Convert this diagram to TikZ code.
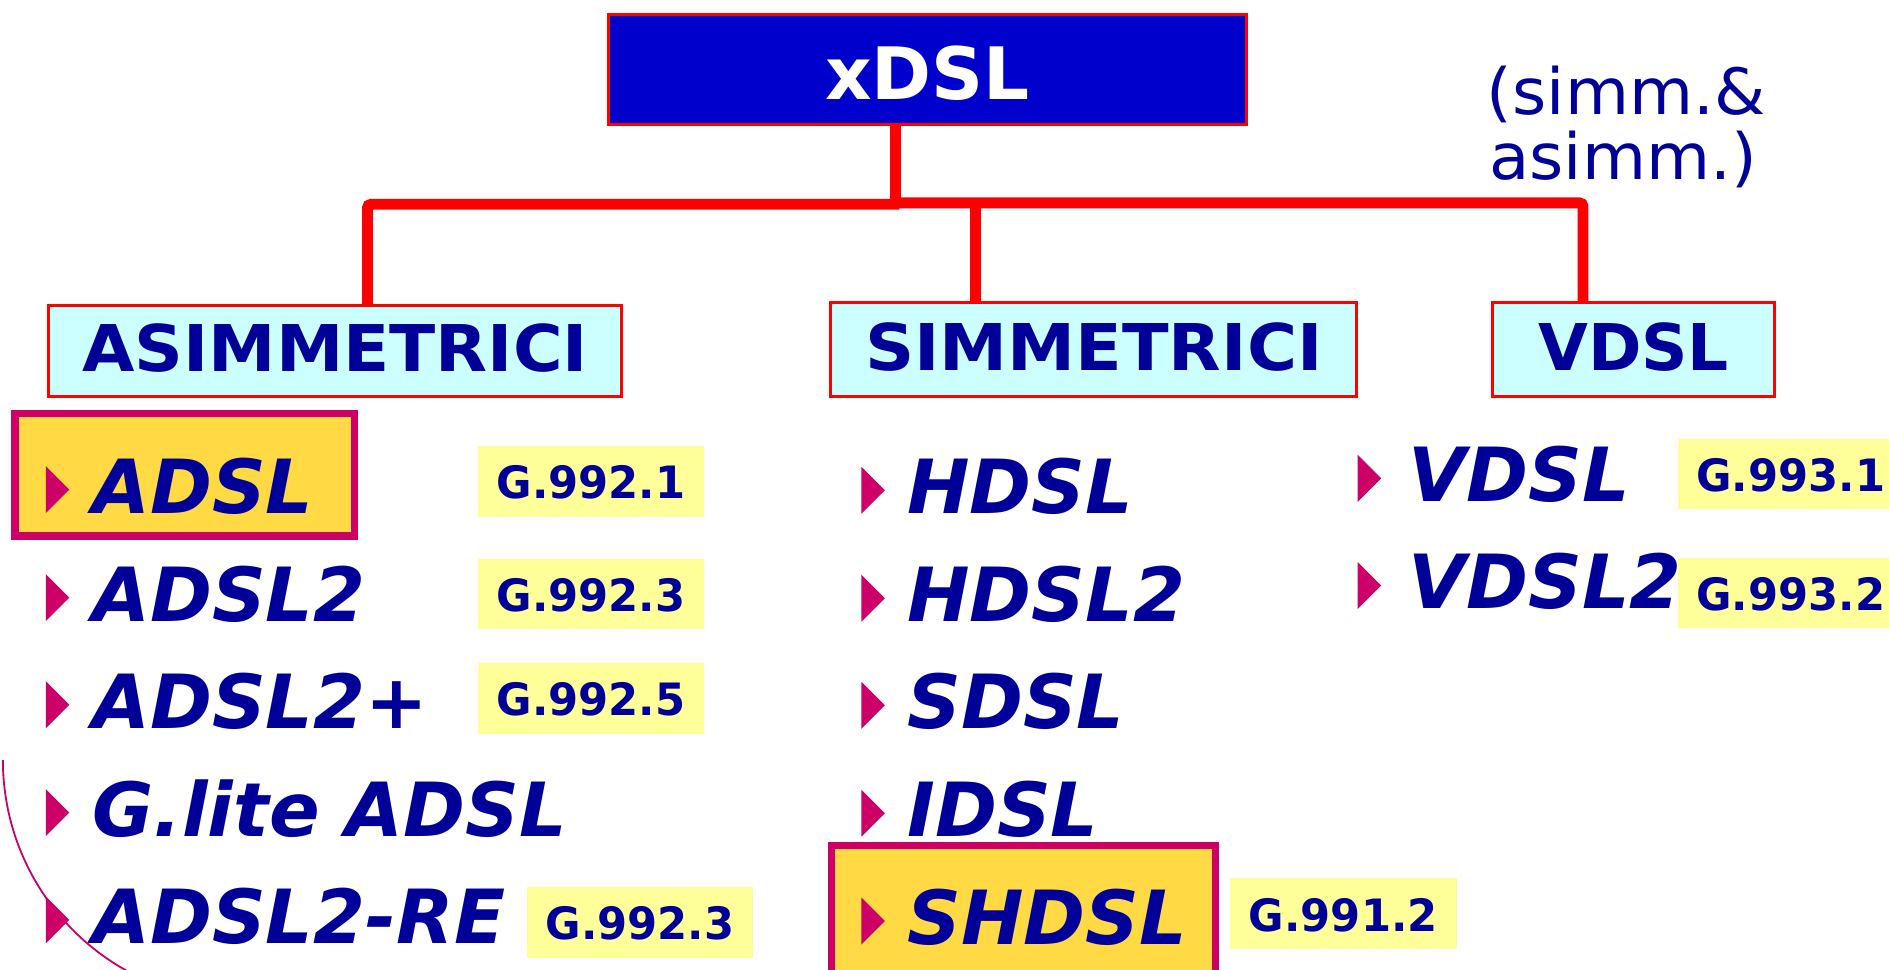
\documentclass[tikz,border=0pt]{standalone}
\usepackage{fontspec}
\usepackage{graphicx}
\setmainfont{DejaVu Sans}
\newfontfamily\labfont{DejaVu Sans}[FakeStretch=0.97]
\definecolor{navy}{HTML}{000099}
\definecolor{boxblue}{HTML}{0000CC}
\definecolor{hdrfill}{HTML}{CCFFFF}
\definecolor{labfill}{HTML}{FFFF99}
\definecolor{gold}{HTML}{FFDA45}
\definecolor{mag}{HTML}{CC0066}
\newcommand\bul[2]{\fill[mag] (#1,#2) -- ++(0,-39) -- ++(19.5,19.5) -- cycle;}
\begin{document}
\begin{tikzpicture}[x=1pt,y=-1pt,
  conn/.style={draw=red, line width=9pt, rounded corners=3pt},
  topbox/.style={draw=red, line width=2.5pt, fill=boxblue, text=white, inner sep=0pt,
     font=\fontsize{60}{66}\selectfont\bfseries},
  hdr/.style={draw=red, line width=2.5pt, fill=hdrfill, text=navy, inner sep=0pt,
     font=\fontsize{53.5}{60}\selectfont\bfseries, text depth=0pt},
  lab/.style={fill=labfill, inner sep=0pt, text=navy, minimum width=187pt, minimum height=59pt,
     font=\labfont\bfseries\fontsize{37}{40}\selectfont, text height=29pt, text depth=0pt},
  hl/.style={draw=mag, line width=6pt, fill=gold, inner sep=0pt},
  item/.style={anchor=base west, inner sep=0pt, text=navy,
     font=\fontsize{62}{70}\selectfont\bfseries\itshape},
  note/.style={anchor=base west, inner sep=0pt, text=navy, font=\fontsize{53}{56}\selectfont}
]
\useasboundingbox (0,0) rectangle (1568,805);
\clip (0,0) rectangle (1568,805);

% top box and header boxes
\node[topbox, minimum width=529.5pt, minimum height=92pt, text height=49.5pt, text depth=0pt]
  (x) at (770,57.75) {xDSL};
\node[hdr, minimum width=476pt, minimum height=75pt, text height=33.5pt] (asym) at (278.25,291.25)
  {\scalebox{1.05}[1]{ASIMMETRICI}};
\node[hdr, minimum width=436.5pt, minimum height=78pt, text height=34.5pt] (sym) at (908,290.25)
  {\scalebox{1.06}[1]{SIMMETRICI}};
\node[hdr, minimum width=233.5pt, minimum height=78pt, text height=34.5pt] (vd) at (1356,290.25)
  {VDSL};

\node[note] (n1) at (1234,95) {\scalebox{1.03}[1]{(simm.\&}};
\node[note] (n2) at (1236,149) {\scalebox{1.03}[1]{asimm.)}};

% connectors
\coordinate (jc) at (743.5,168.4);
\coordinate (ja) at (305,169.6);
\coordinate (js) at (809.7,168.4);
\coordinate (jv) at (1314,168.4);
\draw[conn] (jc |- x.south) -- (jc);
\draw[conn] (ja |- asym.north) -- (ja) -- ([xshift=3pt]jc |- ja);
\draw[conn] (jc) -- (jv) -- (jv |- vd.north);
\draw[conn] (js) -- (js |- sym.north);

% highlight boxes
\node[hl, minimum width=281.5pt, minimum height=102pt] (hadsl) at (153.25,394) {};
\node[hl, minimum width=319pt, minimum height=128pt] (hshdsl) at (849.5,766) {};

% labels
\node[lab] (l1) at (490.5,399.5) {G.992.1};
\node[lab, minimum height=58.4pt] (l2) at (490.5,492.8) {G.992.3};
\node[lab] (l3) at (490.5,579.5) {G.992.5};
\node[lab] (l4) at (531.3,765.5) {G.992.3};
\node[lab, minimum height=58.2pt] (l5) at (1486.5,393.6) {G.993.1};
\node[lab, minimum height=58pt] (l6) at (1486.5,492) {G.993.2};
\node[lab, minimum width=188pt] (l7) at (1115,758.5) {G.991.2};

% left column
\bul{38}{426}\bul{38}{515.5}\bul{38}{604.5}\bul{38}{694}\bul{38}{783}
\node[item] (a1) at (76.5,426) {ADSL};
\node[item] (a2) at (76.5,515.5) {ADSL2};
\node[item] (a3) at (76.5,604.5) {ADSL2+};
\node[item] (a4) at (76.5,694) {G.lite ADSL};
\node[item] (a5) at (76.5,783) {ADSL2-RE};

% middle column
\bul{715}{426.4}\bul{715}{516}\bul{715}{605}\bul{715}{694.5}\bul{715}{784}
\node[item] (s1) at (753,426.4) {HDSL};
\node[item] (s2) at (753,516) {HDSL2};
\node[item] (s3) at (753,605) {SDSL};
\node[item] (s4) at (753,694.5) {IDSL};
\node[item] (s5) at (753,784) {SHDSL};

% right column
\bul{1127}{416.5}\bul{1127}{505.5}
\node[item] (v1) at (1169,416.5) {VDSL};
\node[item] (v2) at (1169,505.5) {VDSL2};

% arc
\draw[mag, line width=1.5pt] (2.4,631) .. controls (2.4,703.7) and (41.8,770.7) .. (105.4,805.9);
\end{tikzpicture}
\end{document}
